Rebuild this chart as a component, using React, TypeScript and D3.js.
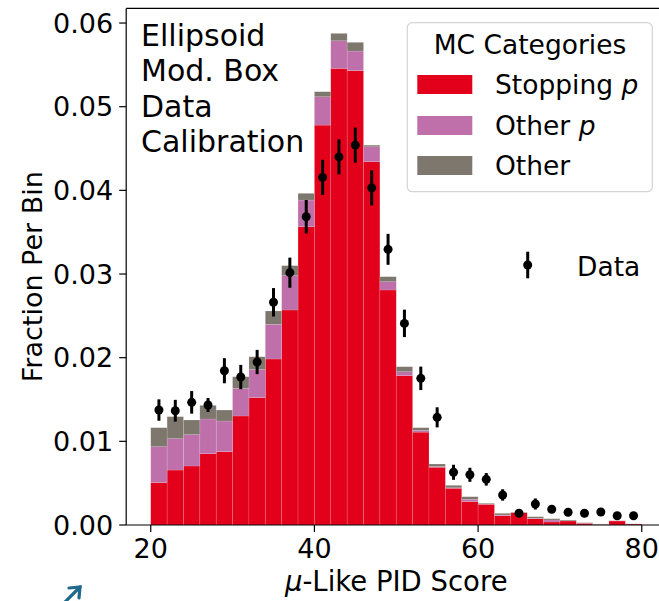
import React from 'react';
import * as d3 from 'd3';

const binLow = [20, 22, 24, 26, 28, 30, 32, 34, 36, 38, 40, 42, 44, 46, 48, 50, 52, 54, 56, 58, 60, 62, 64, 66, 68, 70, 72, 74, 76, 78];
const binWidth = 2;
const stoppingP = [0.00506, 0.00657, 0.00705, 0.00852, 0.00876, 0.01303, 0.01522, 0.01984, 0.0257, 0.03565, 0.0478, 0.05458, 0.0543, 0.04342, 0.02809, 0.01785, 0.0111, 0.0069, 0.00439, 0.00279, 0.00247, 0.00111, 0.00147, 0.00075, 0.00036, 0.00048, 0.0002, 0.00004, 0.00048, 0.00012];
const otherP = [0.0043, 0.00375, 0.00375, 0.00415, 0.00367, 0.00331, 0.00338, 0.00415, 0.0041, 0.00319, 0.00339, 0.0033, 0.00235, 0.00179, 0.00099, 0.00047, 0.0002, 0.0001, 0.00006, 0.00028, 0.00003, 0.00009, 0.00003, 0.00005, 0.00024, 0.00002, 0.00004, 0.00002, 0.00002, 0.00001];
const other = [0.00227, 0.00263, 0.00175, 0.00163, 0.00131, 0.00138, 0.00151, 0.00159, 0.0012, 0.0008, 0.0006, 0.00088, 0.00104, 0.00019, 0.0006, 0.0006, 0.00033, 0.00029, 0.00029, 0.00031, 0.00009, 0.0002, 0.00005, 0.00019, 0.00015, 0.0001, 0.00004, 0.00004, 0.00002, 0.00001];

const dataX = [21, 23, 25, 27, 29, 31, 33, 35, 37, 39, 41, 43, 45, 47, 49, 51, 53, 55, 57, 59, 61, 63, 65, 67, 69, 71, 73, 75, 77, 79];
const dataY = [0.01374, 0.01366, 0.01466, 0.01434, 0.01844, 0.01769, 0.01948, 0.02662, 0.03016, 0.03685, 0.04155, 0.044, 0.04541, 0.0403, 0.03295, 0.0241, 0.01753, 0.01287, 0.0063, 0.006, 0.00546, 0.00359, 0.0014, 0.00251, 0.00188, 0.00152, 0.0014, 0.00155, 0.0011, 0.0011];
const dataErr = [0.00128, 0.0013, 0.00135, 0.00084, 0.0015, 0.00145, 0.00145, 0.0017, 0.0018, 0.002, 0.0021, 0.0021, 0.0021, 0.0021, 0.00185, 0.00164, 0.0014, 0.0012, 0.0009, 0.00084, 0.00075, 0.00068, 0.0004, 0.00066, 0.0004, 0.0003, 0.0003, 0.0003, 0.0003, 0.0003];

const xTicks = [20, 40, 60, 80];
const yTicks = [0, 0.01, 0.02, 0.03, 0.04, 0.05, 0.06];
const yTickLabels = ['0.00', '0.01', '0.02', '0.03', '0.04', '0.05', '0.06'];
const categoryKeys = ['stoppingP', 'otherP', 'other'];
const categoryColors = ['#e2001a', '#bf6fa9', '#7e776e'];
const annotationLines = ['Ellipsoid', 'Mod. Box', 'Data', 'Calibration'];

const FONT = 'DejaVu Sans, Verdana, sans-serif';

export default function App() {
  const W = 659;
  const H = 601;
  const left = 126.2;
  const right = 666.3;
  const top = 8.4;
  const bottom = 525;
  const x = d3.scaleLinear().domain([17, 83]).range([left, right]);
  const y = d3.scaleLinear().domain([0, 0.06175]).range([bottom, top]);

  const rows = binLow.map((b, i) => ({ b, stoppingP: stoppingP[i], otherP: otherP[i], other: other[i] }));
  const series = d3.stack<any>().keys(categoryKeys)(rows);

  const legendItems = [
    { label: 'Stopping ', ital: 'p', color: categoryColors[0], cy: 84.5 },
    { label: 'Other ', ital: 'p', color: categoryColors[1], cy: 125.5 },
    { label: 'Other', ital: '', color: categoryColors[2], cy: 165.5 },
  ];

  return (
    <svg width={W} height={H} style={{ position: 'absolute', left: 0, top: 0, background: '#fff' }} fontFamily={FONT}>
      <rect x={0} y={0} width={W} height={H} fill="#fff" />
      {series.map((s, si) => (
        <g key={si} fill={categoryColors[si]}>
          {s.map((d, i) => {
            const x0 = x(rows[i].b);
            const x1 = x(rows[i].b + binWidth);
            const y0 = y(d[0]);
            const y1 = y(d[1]);
            return (
              <rect key={i} x={x0} y={y1} width={x1 - x0} height={Math.max(0, y0 - y1)}
                stroke="rgba(255,255,255,0.22)" strokeWidth={0.6} />
            );
          })}
        </g>
      ))}
      <line x1={left} x2={left} y1={top} y2={bottom} stroke="#000" strokeWidth={1.2} />
      <line x1={left} x2={right} y1={bottom} y2={bottom} stroke="#000" strokeWidth={1.2} />
      <line x1={left} x2={right} y1={top} y2={top} stroke="#000" strokeWidth={1.2} />
      <line x1={right} x2={right} y1={top} y2={bottom} stroke="#000" strokeWidth={1.2} />
      {yTicks.map((t, i) => (
        <g key={i}>
          <line x1={left - 7} x2={left} y1={y(t)} y2={y(t)} stroke="#000" strokeWidth={1.2} />
          <text x={left - 13} y={y(t)} dy="0.36em" textAnchor="end" fontSize={27}>{yTickLabels[i]}</text>
        </g>
      ))}
      {xTicks.map((t, i) => (
        <g key={i}>
          <line x1={x(t)} x2={x(t)} y1={bottom} y2={bottom + 7} stroke="#000" strokeWidth={1.2} />
          <text x={x(t)} y={558} textAnchor="middle" fontSize={27}>{t}</text>
        </g>
      ))}
      <text x={(left + right) / 2} y={591} textAnchor="middle" fontSize={27.5}>
        <tspan fontStyle="italic">μ</tspan>-Like PID Score
      </text>
      <text transform={`translate(42,${(top + bottom) / 2 + 10}) rotate(-90)`} textAnchor="middle" fontSize={27}>Fraction Per Bin</text>
      <g>
        {dataX.map((dx, i) => (
          <g key={i}>
            <line x1={x(dx)} x2={x(dx)} y1={y(dataY[i] - dataErr[i])} y2={y(dataY[i] + dataErr[i])} stroke="#000" strokeWidth={3} />
            <circle cx={x(dx)} cy={y(dataY[i])} r={4.5} fill="#000" />
          </g>
        ))}
      </g>
      {annotationLines.map((l, i) => (
        <text key={i} x={141} y={46 + i * 35.3} fontSize={30}>{l}</text>
      ))}
      <rect x={407.3} y={22.7} width={245} height={169} rx={5} fill="rgba(255,255,255,0.85)" stroke="#d4d4d4" strokeWidth={1.2} />
      <text x={530} y={54} textAnchor="middle" fontSize={26.5}>MC Categories</text>
      {legendItems.map((it, i) => (
        <g key={i}>
          <rect x={417.3} y={it.cy - 9.5} width={55} height={19} fill={it.color} />
          <text x={495} y={it.cy + 9.5} fontSize={26.5}>
            {it.label}
            {it.ital && <tspan fontStyle="italic">{it.ital}</tspan>}
          </text>
        </g>
      ))}
      <line x1={527.7} x2={527.7} y1={251.7} y2={278.3} stroke="#000" strokeWidth={3} />
      <circle cx={527.7} cy={265} r={4.5} fill="#000" />
      <text x={577} y={275.5} fontSize={26.5}>Data</text>
      <g stroke="#1f6a8c" strokeWidth={3.2} fill="none" strokeLinecap="round">
        <line x1={64} y1={603} x2={80} y2={587} />
        <polyline points="69,588 80,587 79,598" />
      </g>
    </svg>
  );
}
